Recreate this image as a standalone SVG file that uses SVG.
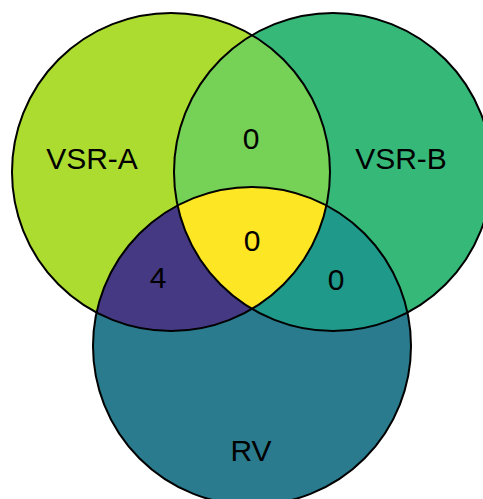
<svg xmlns="http://www.w3.org/2000/svg" width="483" height="499" viewBox="0 0 483 499">
  <style>
    .outline { fill: none; stroke: #000; stroke-width: 2; }
    .label { font-family: "Liberation Sans", Arial, sans-serif; font-size: 30px; fill: #000; text-anchor: middle; }
  </style>
  <defs>
    <circle id="circA" cx="171" cy="172" r="159"/>
    <circle id="circB" cx="333" cy="172" r="159"/>
    <circle id="circC" cx="252" cy="346" r="159"/>
    <clipPath id="clipA"><use href="#circA"/></clipPath>
    <clipPath id="clipB"><use href="#circB"/></clipPath>
    <clipPath id="clipC"><use href="#circC"/></clipPath>
  </defs>

  <rect width="483" height="499" fill="#fff"/>

  <!-- single sets -->
  <g id="set-vsr-a">
    <use href="#circA" fill="#addc30"/>
  </g>
  <g id="set-vsr-b">
    <use href="#circB" fill="#36b879"/>
  </g>
  <g id="set-rv">
    <use href="#circC" fill="#2a7b8e"/>
  </g>

  <!-- pairwise overlaps -->
  <g id="region-a-b" clip-path="url(#clipA)">
    <use href="#circB" fill="#76d157"/>
  </g>
  <g id="region-a-c" clip-path="url(#clipA)">
    <use href="#circC" fill="#453983"/>
  </g>
  <g id="region-b-c" clip-path="url(#clipB)">
    <use href="#circC" fill="#1f998a"/>
  </g>

  <!-- triple overlap -->
  <g id="region-a-b-c" clip-path="url(#clipA)">
    <g clip-path="url(#clipB)">
      <use href="#circC" fill="#fde725"/>
    </g>
  </g>

  <!-- circle outlines -->
  <g id="outlines">
    <use href="#circA" class="outline"/>
    <use href="#circB" class="outline"/>
    <use href="#circC" class="outline"/>
  </g>

  <!-- labels -->
  <g id="labels">
    <text class="label" x="92" y="169">VSR-A</text>
    <text class="label" x="401" y="169">VSR-B</text>
    <text class="label" x="251" y="461">RV</text>
    <text class="label" x="251" y="149">0</text>
    <text class="label" x="252" y="251">0</text>
    <text class="label" x="158" y="288">4</text>
    <text class="label" x="336" y="290">0</text>
  </g>
</svg>
